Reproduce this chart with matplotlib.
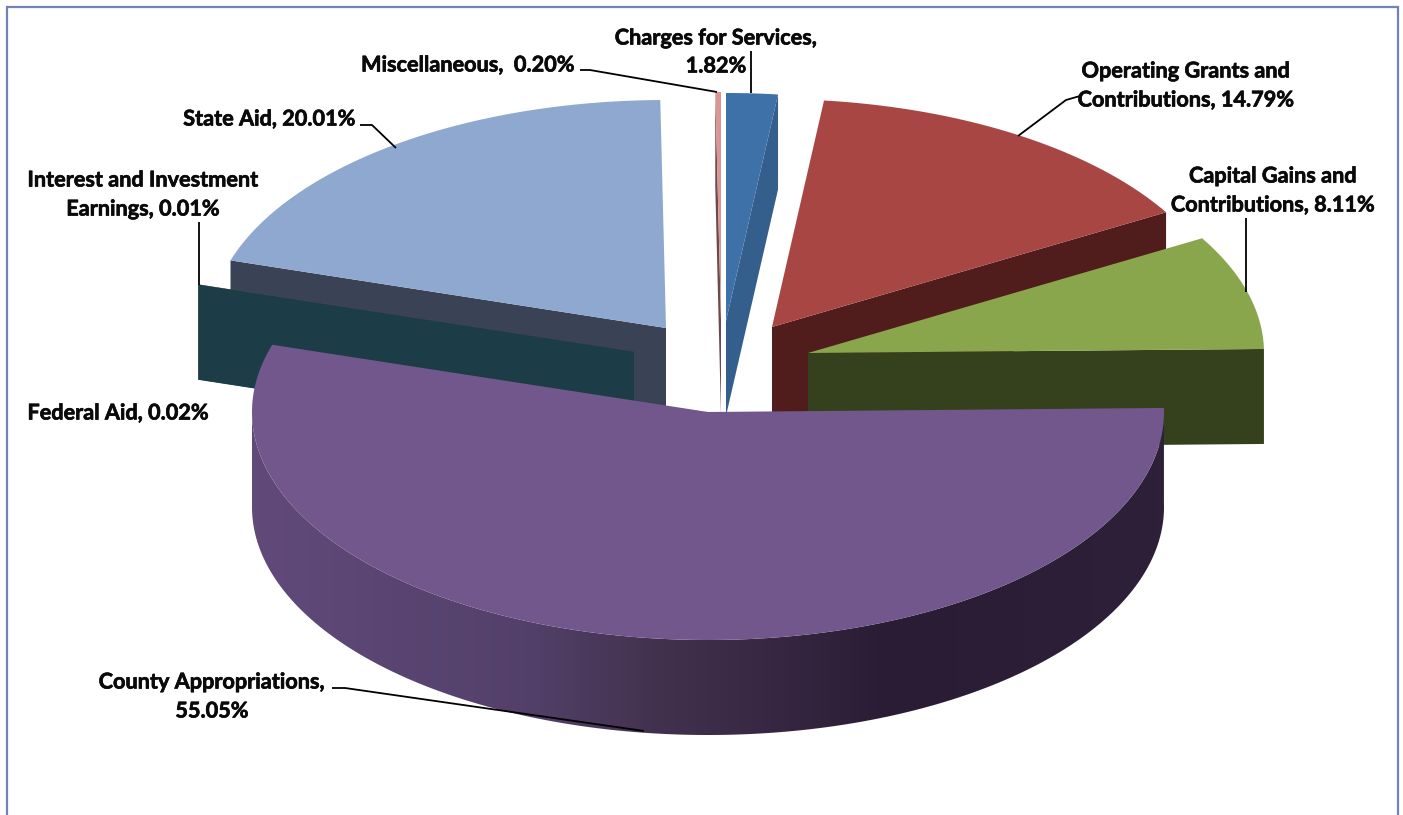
import matplotlib
matplotlib.use("Agg")
import matplotlib.pyplot as plt
import matplotlib.patheffects as pe
import numpy as np
from matplotlib.colors import LinearSegmentedColormap
from matplotlib.patches import Polygon

names = ["Charges for Services", "Operating Grants and Contributions",
         "Capital Gains and Contributions", "County Appropriations",
         "Federal Aid", "Interest and Investment Earnings", "State Aid",
         "Miscellaneous"]
values = [1.82, 14.79, 8.11, 55.05, 0.02, 0.01, 20.01, 0.20]

top_colors = ["#3e71a8", "#a84644", "#8aa64c", "#72578c", "#1c3d47", "#b5743a", "#8fa8cf", "#d99694"]
cut_colors = ["#345f8c", "#511d1c", "#35401d", "#2e2038", "#1c3d47", "#1c3d47", "#3a4256", "#6b4a4a"]

# where each exploded slice has its tip, in picture pixels
tips = [(726, 321), (772, 327), (808, 353), (708, 412), (634, 352), (634, 352), (666, 328), (721, 320)]
# order the slices get painted in, back to front
paint_order = [7, 0, 6, 5, 4, 1, 2, 3]

RX = 456
RY = 228
DEPTH = 95

plt.rcParams["font.family"] = ["Lato", "DejaVu Sans"]
fig = plt.figure(figsize=(14.03, 8.15), dpi=100)
ax = fig.add_axes([0, 0, 1, 1])
ax.axis("off")


def arc(tip, t0, t1):
    t = np.radians(np.linspace(t0, t1, max(3, int(abs(t1 - t0) * 3))))
    return np.column_stack([tip[0] + RX * np.cos(t), tip[1] - RY * np.sin(t)])


# slice angles, clockwise from the top of the pie
fractions = np.array(values) / sum(values)
ends = 90 - 360 * np.cumsum(fractions)
starts = ends + 360 * fractions

for i in paint_order:
    tip = np.array(tips[i], dtype=float)
    rim = arc(tip, starts[i], ends[i])
    z = paint_order.index(i) * 3 + 2
    if values[i] > 50:
        # big front slice, the rim gets the dark gradient
        band = arc(tip, -180, starts[i])
        side = Polygon(np.vstack([band, (band + [0, DEPTH])[::-1]]), closed=True, fc="none", ec="none", zorder=z)
        ax.add_patch(side)
        cmap = LinearSegmentedColormap.from_list(
            "rim", [(0, "#614a7a"), (0.3, "#53406a"), (0.43, "#443350"), (0.7, "#2b1c35"), (1, "#2f2039")])
        im = ax.imshow(np.linspace(0, 1, 300)[None, :], extent=(252, 1164, 815, 0), aspect="auto",
                       cmap=cmap, zorder=z)
        im.set_clip_path(side)
    else:
        # left hand slices show the cut face on their far edge
        if tip[0] < 700 or i == 7:
            a = rim[np.argmin(rim[:, 0])]
        else:
            a = rim[-1]
        face = np.array([a, tip, tip + [0, DEPTH], a + [0, DEPTH]])
        ax.add_patch(Polygon(face, closed=True, fc=cut_colors[i], ec="none", zorder=z))
    ax.add_patch(Polygon(np.vstack([tip, rim]), closed=True, fc=top_colors[i], ec="none", zorder=z + 1))

ax.set_xlim(0, 1403)
ax.set_ylim(815, 0)

# labels
labels = [
    ("Charges for Services,", 716, 38), ("1.82%", 716, 66),
    ("Miscellaneous,  0.20%", 468, 65),
    ("Operating Grants and", 1186, 71), ("Contributions, 14.79%", 1186, 100),
    ("Capital Gains and", 1273, 176), ("Contributions, 8.11%", 1273, 205),
    ("Interest and Investment", 143, 180), ("Earnings, 0.01%", 143, 209),
    ("State Aid, 20.01%", 269, 119),
    ("Federal Aid, 0.02%", 118, 413),
    ("County Appropriations,", 212, 682), ("55.05%", 212, 711),
]
for s, x, y in labels:
    ax.text(x, y, s, ha="center", va="center", fontsize=15.6, fontweight="bold", color="#0a0a0a", zorder=60,
            path_effects=[pe.withStroke(linewidth=0.5, foreground="#0a0a0a")])

leaders = [
    [(751, 51), (751, 93)],
    [(580, 70), (590, 70), (717, 92)],
    [(1080, 96), (1066, 100), (1018, 136)],
    [(1246, 218), (1246, 292)],
    [(199, 222), (199, 285)],
    [(360, 125), (372, 125), (396, 148)],
    [(332, 688), (345, 688), (644, 731)],
]
for pts in leaders:
    xs, ys = zip(*pts)
    ax.plot(xs, ys, color="black", lw=1.3, zorder=50, solid_capstyle="butt")

# chart frame, runs off the bottom of the picture
ax.plot([7, 7, 1398, 1398], [815, 7, 7, 815], color="#7382bb", lw=1.6, zorder=70, solid_joinstyle="miter")

fig.savefig("out.png", dpi=100, facecolor="white")
